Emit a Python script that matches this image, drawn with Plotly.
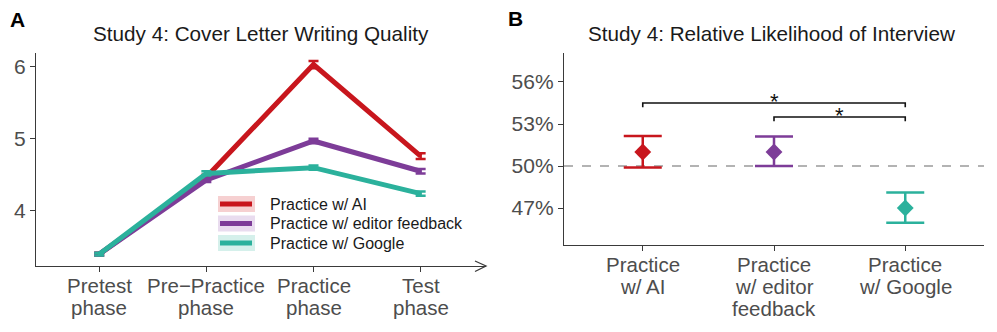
import plotly.graph_objects as go

W, H = 997, 332

# ---------------- data ----------------
phases = ["Pretest\nphase", "Pre\u2212Practice\nphase", "Practice\nphase", "Test\nphase"]
series_names = ["Practice w/ AI", "Practice w/ editor feedback", "Practice w/ Google"]
quality_ai = [3.40, 4.47, 6.03, 4.76]
quality_editor = [3.40, 4.43, 4.97, 4.55]
quality_google = [3.40, 4.52, 4.60, 4.24]
quality_se_ai = [0.02, 0.03, 0.05, 0.04]
quality_se_editor = [0.02, 0.03, 0.03, 0.03]
quality_se_google = [0.02, 0.03, 0.03, 0.03]

groups_b = ["Practice\nw/ AI", "Practice\nw/ editor\nfeedback", "Practice\nw/ Google"]
likelihood = [51.0, 51.0, 47.0]
likelihood_lo = [49.9, 50.0, 45.95]
likelihood_hi = [52.15, 52.1, 48.1]
pct_ticks = [47, 50, 53, 56]
sig_pairs = [(0, 2), (1, 2)]
sig_heights = [54.5, 53.5]
sig_labels = ["*", "*"]

colors = ["#C8161D", "#7D3C98", "#2BB19C"]
tints = ["#F6D0D1", "#E9DCEF", "#D5F0EB"]

FONT = "Liberation Sans, Arial, sans-serif"
AXC = "#3a3a3a"
TXT = "#4d4d4d"

def px(x):
    return x / W

def py(y):
    return 1 - y / H

fig = go.Figure()

# ---------------- panel A ----------------
xa = list(range(len(phases)))
for vals, se, c in zip([quality_ai, quality_editor, quality_google],
                       [quality_se_ai, quality_se_editor, quality_se_google], colors):
    fig.add_trace(go.Scatter(
        x=xa, y=vals, mode="lines", xaxis="x", yaxis="y",
        line=dict(color=c, width=5),
        error_y=dict(type="data", array=se, color=c, thickness=2.5, width=5),
        showlegend=False, hoverinfo="skip"))

# ---------------- panel B ----------------
xb = list(range(len(groups_b)))
for i in xb:
    fig.add_trace(go.Scatter(
        x=[xb[i]], y=[likelihood[i]], mode="markers", xaxis="x2", yaxis="y2",
        marker=dict(symbol="diamond", size=13, color=colors[i]),
        error_y=dict(type="data", symmetric=False,
                     array=[likelihood_hi[i] - likelihood[i]],
                     arrayminus=[likelihood[i] - likelihood_lo[i]],
                     color=colors[i], thickness=2.5, width=19),
        showlegend=False, hoverinfo="skip"))

shapes = []
annotations = []

# reference line at 50%
shapes.append(dict(type="line", xref="x2 domain", yref="y2", x0=0, x1=1, y0=50, y1=50,
                   line=dict(color="#9a9a9a", width=1.5, dash="dash"), layer="below"))

# significance brackets
for (a, b), h, lab in zip(sig_pairs, sig_heights, sig_labels):
    shapes.append(dict(type="path", xref="x2", yref="y2",
                       path=f"M{xb[a]},{h-0.3} L{xb[a]},{h} L{xb[b]},{h} L{xb[b]},{h-0.3}",
                       line=dict(color="#111111", width=1.6)))
    annotations.append(dict(xref="x2", yref="y2", x=(xb[a] + xb[b]) / 2, y=h,
                            text=lab, showarrow=False, yanchor="middle", yshift=2,
                            font=dict(family=FONT, size=22, color="#111111")))

# category labels, one line at a time (tighter line spacing like the original)
def cat_labels(labels, positions, xref, first_center):
    for lab, pos in zip(labels, positions):
        for k, line in enumerate(lab.split("\n")):
            annotations.append(dict(xref=xref, yref="paper", x=pos, y=py(first_center + 22.3 * k),
                                    text=line, showarrow=False, xanchor="center", yanchor="middle",
                                    font=dict(family=FONT, size=20.5, color=TXT)))

cat_labels(phases, xa, "x", 285.5)
cat_labels(groups_b, xb, "x2", 264)

# arrow head on panel A x axis
shapes.append(dict(type="path", xref="paper", yref="paper",
                   path=f"M{px(475)},{py(261)} L{px(486)},{py(266)} L{px(475)},{py(271.5)}",
                   line=dict(color=AXC, width=1.3)))

# manual legend for panel A
for i, (name, c, t) in enumerate(zip(series_names, colors, tints)):
    yc = 204 + 19.5 * i
    shapes.append(dict(type="rect", xref="paper", yref="paper",
                       x0=px(218), x1=px(255), y0=py(yc - 8), y1=py(yc + 8),
                       fillcolor=t, line=dict(width=0)))
    shapes.append(dict(type="line", xref="paper", yref="paper",
                       x0=px(220), x1=px(252), y0=py(yc), y1=py(yc),
                       line=dict(color=c, width=5)))
    annotations.append(dict(xref="paper", yref="paper", x=px(268), y=py(yc),
                            text=name, showarrow=False, xanchor="left", yanchor="middle",
                            font=dict(family=FONT, size=16, color="#1a1a1a")))

# titles and panel letters
annotations.append(dict(xref="paper", yref="paper", x=px(260.5), y=py(33),
                        text="Study 4: Cover Letter Writing Quality", showarrow=False,
                        xanchor="center", yanchor="middle",
                        font=dict(family=FONT, size=20.7, color="#1a1a1a")))
annotations.append(dict(xref="paper", yref="paper", x=px(771), y=py(33),
                        text="Study 4: Relative Likelihood of Interview", showarrow=False,
                        xanchor="center", yanchor="middle",
                        font=dict(family=FONT, size=20.7, color="#1a1a1a")))
annotations.append(dict(xref="paper", yref="paper", x=px(17), y=py(19),
                        text="<b>A</b>", showarrow=False, xanchor="center", yanchor="middle",
                        font=dict(family=FONT, size=21, color="#000000")))
annotations.append(dict(xref="paper", yref="paper", x=px(515), y=py(18),
                        text="<b>B</b>", showarrow=False, xanchor="center", yanchor="middle",
                        font=dict(family=FONT, size=21, color="#000000")))

axis_common = dict(showgrid=False, zeroline=False, showline=True, linecolor=AXC, linewidth=1.3,
                   ticks="outside", ticklen=5, tickcolor=AXC, tickwidth=1.3,
                   tickfont=dict(family=FONT, size=21, color=TXT))

fig.update_layout(
    width=W, height=H, margin=dict(l=0, r=0, t=0, b=0),
    paper_bgcolor="white", plot_bgcolor="white",
    xaxis=dict(domain=[px(36), px(486)], range=[-0.59, 3.61],
               tickvals=xa, showticklabels=False, anchor="y", **axis_common),
    yaxis=dict(domain=[py(266), py(53)], range=[3.236, 6.19],
               tickvals=[4, 5, 6], anchor="x", **axis_common),
    xaxis2=dict(domain=[px(564), px(984)], range=[-0.6, 2.6],
                tickvals=xb, showticklabels=False, anchor="y2", **axis_common),
    yaxis2=dict(domain=[py(245), py(53)], range=[44.36, 58.07],
                tickvals=pct_ticks, ticktext=[f"{v}%" for v in pct_ticks],
                anchor="x2", **axis_common),
    shapes=shapes, annotations=annotations,
)

fig.write_html("out.html", config={"displayModeBar": False},
               post_script="document.body.style.margin='0';document.body.style.overflow='hidden';")
